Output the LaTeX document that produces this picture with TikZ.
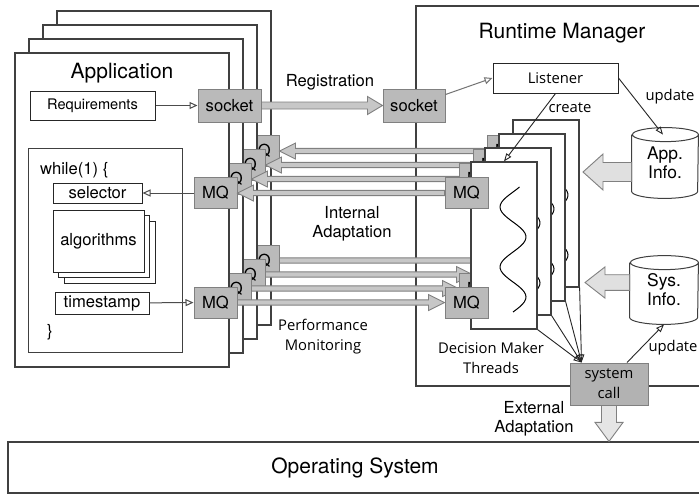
\documentclass[tikz,border=0pt]{standalone}
\usepackage{fontspec}
\setmainfont{TeX Gyre Heros}
\newfontfamily\opensans{Open Sans}
\usetikzlibrary{arrows.meta,calc}

\pgfdeclarelayer{back}
\pgfdeclarelayer{links}
\pgfsetlayers{back,links,main}

\newcommand\titlesize{\fontsize{10.5}{12}\selectfont}
\newcommand\labelsize{\fontsize{8.3}{9.5}\selectfont}
\newcommand\notesize{\opensans\fontsize{7.4}{10}\selectfont}

% fat horizontal arrow: [style]{from}{to}{shaft}{head}{head length}
\newcommand\fatarrow[6][]{%
  \filldraw[fat,#1] let \p1=(#2), \p2=(#3), \n1={\x2-sign(\x2-\x1)*#6} in
    (\x1,\y1+#4) -- (\n1*1pt,\y1+#4) -- (\n1*1pt,\y1+#5) -- (\x2,\y1)
    -- (\n1*1pt,\y1-#5) -- (\n1*1pt,\y1-#4) -- (\x1,\y1-#4) -- cycle;}

% data store drawn round a node: {node}{x radius}
\newcommand\drum[2]{%
  \draw[store] ($(#1.north west)+(0,7)$) -- ($(#1.south west)+(0,-7)$)
    arc[start angle=180,end angle=360,x radius=#2,y radius=3.5pt]
    -- ($(#1.north east)+(0,7)$)
    arc[start angle=0,end angle=360,x radius=#2,y radius=3.5pt];}

\tikzset{
  frame/.style={draw=black!75, fill=white, line width=0.6pt, inner sep=0pt},
  box/.style={draw=black!85, fill=white, line width=0.5pt, inner sep=0pt, font=\labelsize},
  queue/.style={draw=black!50, fill=black!27, line width=0.5pt, inner sep=0pt,
    minimum width=21.5pt, minimum height=15.5pt, font=\labelsize},
  fat/.style={draw=black!50, fill=black!22, line width=0.45pt},
  link/.style={draw=black!70, line width=0.5pt, -{Triangle[open,length=4pt,width=3.5pt]}},
  flow/.style={draw=black!85, line width=0.45pt, -{Triangle[open,length=4pt,width=3pt]}},
  store/.style={draw=black!75, fill=white, line width=0.5pt},
  wave/.style={draw=black, line width=0.5pt},
  txt/.style={align=center, inner sep=0pt}
}

\begin{document}
\begin{tikzpicture}[x=0.5pt,y=-0.5pt]
  \useasboundingbox (0,0) rectangle (699,494);

  \begin{pgfonlayer}{back}
    \node[frame, minimum width=347pt, minimum height=25.5pt, font=\titlesize] (os) at (355,467.5) {Operating System};
    \node[frame, minimum width=143pt, minimum height=190pt] (rm) at (559,196) {};
    \node[font=\titlesize] (rmtitle) at (562,33) {Runtime Manager};
    \node[queue, minimum width=31pt, minimum height=16.5pt] (rsock) at (414,105.5) {socket};

    % application instances, back to front
    \foreach \k in {3,2,1,0}{
      \begin{scope}[shift={(14*\k,-14*\k)}]
        \node[frame, minimum width=107pt, minimum height=157pt] (app\k) at (122,210) {};
        \node[queue] (amqt\k) at (215.5,193) {MQ};
        \node[queue] (amqb\k) at (215.5,302.5) {MQ};
      \end{scope}
    }
    \node[font=\titlesize] (apptitle) at (122,73) {Application};
    \node[box, minimum width=62.5pt, minimum height=14.5pt, font=\fontsize{7.3}{9}\selectfont] (req) at (92.5,105.5) {Requirements};
    \node[queue, minimum width=31.5pt, minimum height=16.5pt] (asock) at (229.5,105.5) {socket};
    \node[box, draw=black!75, minimum width=77pt, minimum height=102pt] (loop) at (105,250) {};
    \node[anchor=west, font=\labelsize] (while) at (33,170) {while(1) \{};
    \node[box, minimum width=44.5pt, minimum height=10pt] (sel) at (97.5,193) {selector};
    \foreach \s/\n in {11/2,5.5/1}
      \node[box, minimum width=45.5pt, minimum height=31pt] (algo\n) at (98.5+\s,241+\s) {};
    \node[box, minimum width=45.5pt, minimum height=31pt] (algo0) at (98.5,241) {algorithms};
    \node[box, minimum width=47pt, minimum height=11pt] (ts) at (102,303) {timestamp};
    \node[font=\labelsize] (brace) at (50,332) {\}};
    \draw[link] (req) -- (asock);
    \draw[link] (amqt0) -- (sel);
    \draw[link] (ts) -- (amqb0);
  \end{pgfonlayer}

  % decision maker threads, back to front
  \foreach \j in {3,2,1,0}{
    \begin{scope}[shift={(14*\j,-14*\j)}]
      \node[frame, minimum width=33pt, minimum height=83.5pt] (thr\j) at (504,245.5) {};
      \draw[wave] plot[domain=187:312, samples=50, smooth] ({513-13*cos((\x-207)*6)},\x);
      \node[queue] (rmqt\j) at (466.5,193) {MQ};
      \node[queue] (rmqb\j) at (466.5,302.5) {MQ};
    \end{scope}
  }

  \begin{pgfonlayer}{links}
    \fatarrow{asock.east}{rsock.west}{1.75pt}{4.5pt}{7.5pt}
    \foreach \k in {0,...,3}{
      \fatarrow{rmqt\k.west}{amqt\k.east}{1.3pt}{4pt}{8pt}
      \fatarrow{amqb\k.east}{rmqb\k.west}{1.3pt}{4pt}{8pt}
    }
  \end{pgfonlayer}

  \node[box, minimum width=62.5pt, minimum height=15pt, font=\notesize] (listener) at (555.5,78) {Listener};
  \node[txt, minimum width=33pt, minimum height=35pt, font=\fontsize{8.7}{9.5}\selectfont] (appinfo) at (665,163) {App.\\Info.};
  \node[txt, minimum width=34pt, minimum height=34pt, font=\fontsize{8.7}{9.5}\selectfont] (sysinfo) at (664,290) {Sys.\\Info.};
  \begin{pgfonlayer}{back}
    \drum{appinfo}{16.5pt}
    \drum{sysinfo}{17pt}
  \end{pgfonlayer}
  \coordinate (appdst) at (583,172);
  \coordinate (sysdst) at (585,282.5);
  \fatarrow[fill=black!12]{$(appinfo.west)+(0,9)$}{appdst}{4.75pt}{9pt}{10pt}
  \fatarrow[fill=black!12]{$(sysinfo.west)+(0,-7.5)$}{sysdst}{3.9pt}{7.8pt}{10pt}

  \node[queue, fill=black!30, minimum width=39pt, minimum height=21pt, align=center, font=\notesize] (syscall) at (609,384) {system\\call};
  \filldraw[fat, fill=black!10] let \p1=(syscall.south), \p2=(os.north) in
    (\x1-3.75pt,\y1) -- (\x1-3.75pt,\y2+9.5pt) -- (\x1-7pt,\y2+9.5pt) -- (\x1,\y2)
    -- (\x1+7pt,\y2+9.5pt) -- (\x1+3.75pt,\y2+9.5pt) -- (\x1+3.75pt,\y1) -- cycle;

  % labels
  \node[txt, font=\labelsize] (reg) at (330,82) {Registration};
  \node[txt, font=\labelsize] (intad) at (352,224) {Internal\\Adaptation};
  \node[txt, font=\notesize] (perf) at (323,337) {Performance\\Monitoring};
  \node[txt, font=\notesize] (dmt) at (491,358) {Decision Maker\\Threads};
  \node[txt, font=\labelsize] (extad) at (534,419) {External\\Adaptation};
  \node[txt, font=\notesize] (create) at (570,108) {create};
  \node[txt, font=\notesize] (upd1) at (670,97) {update};
  \node[txt, font=\notesize] (upd2) at (673,348) {update};

  % thin connectors
  \draw[link, draw=black!55] ($(rsock.north east)+(0,6)$) -- (listener.west);
  \draw[flow] (listener.south) -- (thr0.north);
  \draw[flow] (listener.east) -- ($(appinfo.north)+(-2,7)$);
  \draw[flow] ($(syscall.north)+(18,0)$) -- (sysinfo.south);
  \coordinate (sysin) at ($(syscall.north west)+(12,0)$);
  \foreach \j in {0,...,3}
    \draw[flow] (thr\j.south east) -- (sysin);
\end{tikzpicture}
\end{document}
